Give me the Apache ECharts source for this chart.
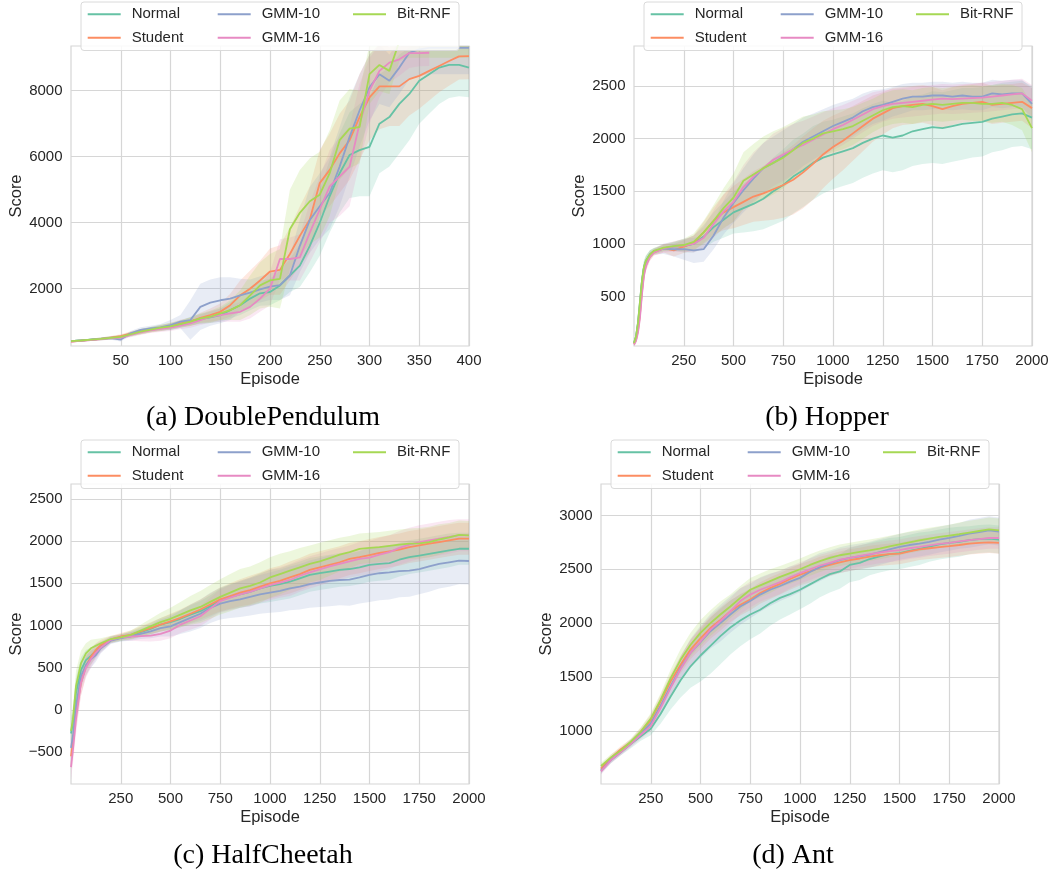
<!DOCTYPE html>
<html>
<head>
<meta charset="utf-8">
<title>Score vs Episode</title>
<script src="https://cdn.jsdelivr.net/npm/echarts@6/dist/echarts.min.js"></script>
<style>
  html, body { margin: 0; padding: 0; background: #fff; }
  #main { width: 1060px; height: 872px; }
</style>
</head>
<body>
<div id="main"></div>
<script>
// methods and seaborn Set2 colours
var methods = ['Normal', 'Student', 'GMM-10', 'GMM-16', 'Bit-RNF'];
var colors = ['#66c2a5', '#fc8d62', '#8da0cb', '#e78ac3', '#a6d854'];

// ---- (a) DoublePendulum ----
var dpEpisode = [0,10,20,30,40,50,60,70,80,90,100,110,120,130,140,150,160,170,180,190,200,210,220,230,240,250,260,270,280,290,300,310,320,330,340,350,360,370,380,390,400];
var dpNormal  = [410,430,460,480,510,540,620,700,760,810,850,930,1020,1080,1130,1200,1350,1500,1700,1860,1900,2100,2400,2700,3300,4000,4800,5500,6050,6200,6300,7000,7200,7600,7900,8300,8500,8700,8780,8780,8700];
var dpStudent = [400,425,450,480,520,560,640,700,750,800,870,950,1000,1120,1200,1300,1500,1800,2000,2250,2520,2570,3050,3600,4100,5200,5600,6100,6500,7200,7800,8130,8130,8130,8350,8450,8600,8750,8900,9040,9050];
var dpGmm10   = [410,430,455,480,500,460,650,750,800,830,900,1000,1050,1450,1580,1650,1700,1800,1880,1980,2060,2110,2400,3300,4080,4500,4900,5700,6600,7400,8100,8500,8300,8700,9150,9250,9300,9300,9300,9300,9300];
var dpGmm16   = [400,420,445,470,500,520,600,680,740,780,820,880,950,1050,1150,1200,1250,1300,1450,1700,2000,2900,2900,2950,3700,4400,5100,5400,5700,7000,8000,8600,8850,8950,9140,9140,9150];
var dpBitRnf  = [410,430,455,480,510,540,620,700,760,820,860,930,1000,1100,1150,1250,1350,1500,1800,2100,2250,2300,3800,4300,4650,4850,5500,6500,6850,6900,8500,8780,8600,9500,9600,9600,9600,9600,9600,9600,9600];
// half width of the shaded band
var dpNormalBand  = [30,30,30,40,50,60,70,80,80,90,100,110,130,150,170,200,250,300,350,380,400,450,500,650,800,1000,1100,1200,1300,1400,1500,1500,1500,1500,1400,1300,1200,1100,1000,950,900];
var dpStudentBand = [30,30,30,40,50,60,70,80,80,90,100,110,130,150,200,250,350,450,550,600,700,750,800,900,1000,1000,1100,1200,1200,1300,1300,1300,1200,1200,1100,1000,900,800,750,700,700];
var dpGmm10Band   = [30,30,30,40,50,60,70,80,80,100,150,200,600,700,700,700,650,500,400,400,400,450,600,800,1000,1000,1100,1200,1200,1100,1000,900,800,800,800,800,800,800,800,800,800];
var dpGmm16Band   = [30,30,30,40,50,60,70,80,80,90,100,110,130,150,180,200,250,300,350,400,500,600,650,700,900,1000,1100,1200,1200,1200,1000,800,600,500,450,400,400];
var dpBitRnfBand  = [30,30,30,40,50,60,70,80,80,90,100,110,130,150,180,200,300,450,600,700,800,900,1200,1300,1300,1300,1300,1200,1200,1100,900,800,700,600,600,600,600,600,600,600,600];

// ---- (b) Hopper ----
var hopEpisode = [0,10,20,30,40,50,60,80,100,150,200,250,300,350,400,450,500,550,600,650,700,750,800,850,900,950,1000,1050,1100,1150,1200,1250,1300,1350,1400,1450,1500,1550,1600,1650,1700,1750,1800,1850,1900,1950,2000];
var hopNormal  = [60,120,250,450,650,780,840,900,930,960,975,980,1000,1070,1160,1230,1300,1340,1380,1430,1500,1560,1640,1700,1770,1820,1850,1880,1910,1960,2000,2030,2010,2030,2070,2090,2110,2100,2120,2140,2150,2160,2190,2210,2230,2240,2200];
var hopStudent = [50,90,180,330,550,720,800,880,920,960,940,975,1010,1110,1220,1300,1350,1400,1450,1480,1520,1560,1610,1680,1760,1850,1920,1980,2050,2120,2190,2240,2290,2310,2320,2330,2310,2280,2310,2330,2340,2350,2320,2330,2340,2350,2290];
var hopGmm10   = [60,110,240,430,640,770,830,900,930,955,950,950,940,950,1080,1250,1390,1510,1620,1720,1770,1830,1900,1970,2020,2070,2120,2160,2200,2260,2300,2320,2350,2380,2400,2400,2410,2410,2400,2410,2400,2400,2430,2420,2430,2430,2330];
var hopGmm16   = [45,80,160,300,520,700,790,880,920,960,975,985,1000,1060,1190,1310,1400,1540,1640,1720,1800,1850,1900,1940,1990,2040,2090,2130,2180,2230,2280,2310,2330,2340,2350,2360,2370,2380,2375,2380,2385,2390,2400,2410,2420,2430,2360];
var hopBitRnf  = [60,120,250,450,650,780,840,900,935,965,980,990,1020,1110,1220,1340,1440,1600,1660,1720,1770,1820,1890,1960,2000,2050,2070,2090,2120,2170,2220,2270,2300,2310,2300,2320,2330,2320,2330,2340,2340,2330,2330,2340,2320,2280,2100];
var hopNormalBand  = [20,30,50,80,80,60,50,40,30,30,40,60,80,110,140,170,200,230,260,290,320,340,350,350,350,340,330,330,330,330,330,330,330,330,330,330,340,340,340,340,330,330,320,320,310,310,300];
var hopStudentBand = [20,30,50,80,80,60,50,40,30,40,60,60,70,100,130,170,200,220,240,260,290,310,330,340,340,320,300,280,260,240,220,200,190,180,180,180,180,180,180,180,180,180,180,180,180,180,190];
var hopGmm10Band   = [20,30,50,80,80,60,50,40,30,50,70,100,120,120,130,160,190,210,230,240,250,250,240,230,220,210,200,190,180,170,160,150,140,140,130,130,130,130,130,130,130,130,130,130,130,130,150];
var hopGmm16Band   = [20,30,50,80,80,60,50,40,30,40,50,60,80,100,130,160,190,210,230,240,250,250,240,230,220,210,200,190,180,170,160,150,140,140,140,140,140,140,140,140,140,140,140,140,140,140,150];
var hopBitRnfBand  = [20,30,50,80,80,60,50,40,30,30,40,60,80,110,150,190,230,270,290,300,300,290,270,250,230,210,200,190,180,170,160,160,160,160,160,160,160,160,160,160,170,170,180,180,190,200,230];

// ---- (c) HalfCheetah ----
var hcEpisode = [0,10,25,50,75,100,125,150,200,250,300,350,400,450,500,550,600,650,700,750,800,850,900,950,1000,1050,1100,1150,1200,1250,1300,1350,1400,1450,1500,1550,1600,1650,1700,1750,1800,1850,1900,1950,2000];
var hcNormal  = [-280,-150,200,470,590,640,700,750,830,855,880,920,960,1010,1040,1080,1130,1170,1230,1300,1340,1370,1400,1440,1470,1490,1520,1560,1600,1620,1640,1660,1670,1690,1720,1730,1740,1780,1810,1830,1850,1870,1890,1910,1910];
var hcStudent = [-550,-370,-40,320,520,630,710,770,835,870,890,930,970,1010,1050,1090,1140,1190,1250,1310,1350,1390,1420,1460,1500,1530,1570,1610,1660,1690,1720,1750,1790,1810,1835,1860,1880,1900,1930,1950,1970,1990,2010,2030,2030];
var hcGmm10   = [-450,-310,40,400,530,600,650,730,820,850,870,900,930,970,990,1040,1090,1140,1210,1260,1290,1310,1340,1370,1390,1410,1440,1460,1490,1510,1530,1540,1545,1570,1600,1620,1630,1645,1650,1670,1700,1730,1750,1770,1765];
var hcGmm16   = [-680,-470,-110,320,500,600,680,740,830,860,870,875,880,900,940,1010,1060,1110,1200,1290,1330,1370,1400,1440,1480,1510,1540,1590,1630,1665,1700,1730,1760,1790,1805,1840,1870,1920,1960,1990,2010,2030,2050,2070,2070];
var hcBitRnf  = [-250,-110,280,550,670,730,760,790,840,860,890,940,990,1040,1080,1130,1180,1220,1280,1340,1390,1440,1470,1510,1570,1610,1650,1690,1730,1760,1800,1840,1870,1910,1920,1930,1945,1960,1970,1975,1990,2020,2045,2075,2070];
var hcNormalBand  = [150,160,180,150,120,100,80,60,40,40,50,60,70,80,90,100,110,120,130,140,150,160,170,180,190,190,200,200,200,200,200,200,200,200,200,200,200,200,200,200,200,200,200,190,190];
var hcStudentBand = [150,160,180,150,120,100,80,60,40,40,50,60,70,80,90,100,110,120,130,140,150,160,170,170,180,180,190,190,190,190,190,190,190,190,190,190,190,190,190,190,190,190,190,190,190];
var hcGmm10Band   = [150,160,180,150,120,100,80,60,40,40,50,60,80,100,120,140,160,170,180,190,200,210,220,230,240,250,260,270,280,290,300,300,310,310,320,320,320,310,310,300,300,290,290,280,280];
var hcGmm16Band   = [150,160,180,150,120,100,80,60,40,40,50,60,70,80,90,100,110,120,130,140,150,160,170,170,180,180,190,190,190,190,190,190,190,200,200,200,200,200,200,200,200,200,200,190,190];
var hcBitRnfBand  = [150,160,180,150,120,100,80,60,40,40,50,70,90,110,130,150,170,190,200,210,220,230,230,240,240,240,230,230,220,220,210,200,190,180,180,180,180,180,180,180,180,180,170,170,170];

// ---- (d) Ant ----
var antEpisode = [0,50,100,150,200,250,300,350,400,450,500,550,600,650,700,750,800,850,900,950,1000,1050,1100,1150,1200,1250,1300,1350,1400,1450,1500,1550,1600,1650,1700,1750,1800,1850,1900,1950,2000];
var antNormal  = [640,730,805,880,950,1020,1160,1320,1470,1600,1700,1790,1880,1960,2025,2080,2125,2185,2235,2270,2310,2360,2410,2455,2480,2540,2560,2595,2620,2640,2650,2670,2690,2710,2730,2745,2755,2770,2780,2785,2776];
var antStudent = [650,750,830,895,990,1100,1275,1460,1615,1755,1860,1955,2030,2110,2170,2220,2280,2325,2365,2410,2450,2480,2515,2540,2565,2585,2600,2618,2630,2640,2646,2665,2685,2695,2705,2714,2725,2738,2745,2750,2745];
var antGmm10   = [630,735,810,885,975,1070,1235,1415,1585,1725,1825,1925,2000,2080,2155,2205,2265,2310,2345,2385,2420,2475,2520,2555,2585,2605,2620,2635,2660,2685,2708,2725,2738,2755,2775,2792,2810,2830,2845,2862,2850];
var antGmm16   = [625,730,805,880,965,1045,1215,1400,1575,1725,1830,1940,2020,2110,2205,2265,2310,2345,2380,2425,2465,2500,2535,2560,2590,2605,2625,2640,2655,2668,2677,2695,2708,2722,2735,2745,2758,2770,2780,2790,2790];
var antBitRnf  = [675,755,820,900,995,1115,1290,1490,1660,1800,1910,2000,2080,2155,2235,2310,2350,2390,2430,2465,2500,2540,2575,2605,2630,2646,2662,2676,2692,2712,2730,2750,2768,2785,2800,2813,2825,2840,2855,2870,2860];
var antNormalBand  = [30,30,30,40,40,60,90,120,160,200,240,260,260,250,240,230,220,210,200,190,180,180,170,170,160,160,160,150,150,150,150,150,150,140,140,140,140,130,130,130,130];
var antStudentBand = [30,30,30,30,40,50,60,70,80,90,100,100,100,100,100,100,100,100,100,100,100,100,100,100,100,100,100,100,100,100,100,100,100,100,100,100,100,100,100,100,100];
var antGmm10Band   = [30,30,30,30,40,50,70,90,110,130,150,160,170,170,170,160,160,150,140,140,130,130,130,120,120,120,120,120,120,120,120,120,120,120,120,120,120,130,130,130,130];
var antGmm16Band   = [30,30,30,30,40,50,70,90,110,120,130,130,130,120,120,120,110,110,110,100,100,100,100,100,100,100,100,100,100,100,100,100,100,100,100,100,100,100,100,100,100];
var antBitRnfBand  = [30,30,30,30,40,50,60,80,100,110,120,120,120,110,110,110,110,110,100,100,100,100,100,100,100,100,100,100,100,100,100,100,100,100,100,100,110,110,110,110,110];

// tick labels
var dpXTicks = [50,100,150,200,250,300,350,400];
var longXTicks = [250,500,750,1000,1250,1500,1750,2000];
var dpYTicks = [2000,4000,6000,8000];
var hopYTicks = [500,1000,1500,2000,2500];
var hcYTicks = [-500,0,500,1000,1500,2000,2500];
var antYTicks = [1000,1500,2000,2500,3000];

var panels = [
    { caption: '(a) DoublePendulum', left: 71, top: 46, x: dpEpisode, xMax: 400, xTicks: dpXTicks,
      yMin: 264, yMax: 9354, yTicks: dpYTicks, legendLeft: 81, legendTop: 2, capX: 263, capY: 418,
      means: [dpNormal, dpStudent, dpGmm10, dpGmm16, dpBitRnf],
      bands: [dpNormalBand, dpStudentBand, dpGmm10Band, dpGmm16Band, dpBitRnfBand] },
    { caption: '(b) Hopper', left: 634, top: 46, x: hopEpisode, xMax: 2000, xTicks: longXTicks,
      yMin: 31, yMax: 2880, yTicks: hopYTicks, legendLeft: 644, legendTop: 2, capX: 827, capY: 418,
      means: [hopNormal, hopStudent, hopGmm10, hopGmm16, hopBitRnf],
      bands: [hopNormalBand, hopStudentBand, hopGmm10Band, hopGmm16Band, hopBitRnfBand] },
    { caption: '(c) HalfCheetah', left: 71, top: 484, x: hcEpisode, xMax: 2000, xTicks: longXTicks,
      yMin: -879, yMax: 2678, yTicks: hcYTicks, legendLeft: 81, legendTop: 440, capX: 263, capY: 856,
      means: [hcNormal, hcStudent, hcGmm10, hcGmm16, hcBitRnf],
      bands: [hcNormalBand, hcStudentBand, hcGmm10Band, hcGmm16Band, hcBitRnfBand] },
    { caption: '(d) Ant', left: 601, top: 484, x: antEpisode, xMax: 2000, xTicks: longXTicks,
      yMin: 508, yMax: 3291, yTicks: antYTicks, legendLeft: 611, legendTop: 440, capX: 793, capY: 856,
      means: [antNormal, antStudent, antGmm10, antGmm16, antBitRnf],
      bands: [antNormalBand, antStudentBand, antGmm10Band, antGmm16Band, antBitRnfBand] }
];

var sans = 'Liberation Sans';
var textColor = '#262626';
var gridColor = '#d6d6d6';

function rgba(hex, a) {
    var n = parseInt(hex.slice(1), 16);
    return 'rgba(' + (n >> 16) + ',' + ((n >> 8) & 255) + ',' + (n & 255) + ',' + a + ')';
}

// plain numbers, matplotlib style minus sign
function tickText(v) {
    return v < 0 ? '\u2212' + Math.abs(v) : String(v);
}

// draws the whole band as one polygon on the first item
function bandRenderer(rows, color) {
    return function (params, api) {
        if (params.dataIndex !== 0) return null;
        var upper = rows.map(function (r) { return api.coord([r[0], r[2]]); });
        var lower = rows.map(function (r) { return api.coord([r[0], r[1]]); }).reverse();
        return {
            type: 'polygon',
            shape: { points: upper.concat(lower) },
            style: { fill: rgba(color, 0.2) }
        };
    };
}

var option = {
    animation: false,
    backgroundColor: '#fff',
    grid: [], xAxis: [], yAxis: [], series: [], legend: [],
    graphic: { elements: [] }
};

var legendCols = [['Normal', 'Student'], ['GMM-10', 'GMM-16'], ['Bit-RNF']];
var legendColX = [5.7, 135.7, 271];

panels.forEach(function (p, i) {
    option.grid.push({
        left: p.left, top: p.top, width: 398, height: 300,
        show: true, borderColor: gridColor, borderWidth: 1.2, backgroundColor: '#fff'
    });
    option.xAxis.push({
        type: 'value', gridIndex: i, min: 0, max: p.xMax,
        name: 'Episode', nameLocation: 'middle', nameGap: 25,
        nameTextStyle: { fontFamily: sans, fontSize: 16.5, color: textColor },
        axisLine: { show: false },
        axisTick: { show: false, customValues: p.xTicks },
        axisLabel: { customValues: p.xTicks, formatter: tickText, margin: 7, fontFamily: sans, fontSize: 15, color: textColor },
        splitLine: { show: true, lineStyle: { color: gridColor, width: 1.2 } }
    });
    option.yAxis.push({
        type: 'value', gridIndex: i, min: p.yMin, max: p.yMax,
        name: 'Score', nameLocation: 'middle', nameGap: 46, nameRotate: 90,
        nameTextStyle: { fontFamily: sans, fontSize: 16.5, color: textColor },
        axisLine: { show: false },
        axisTick: { show: false, customValues: p.yTicks },
        axisLabel: { customValues: p.yTicks, formatter: tickText, margin: 8.5, fontFamily: sans, fontSize: 15, color: textColor },
        splitLine: { show: true, lineStyle: { color: gridColor, width: 1.2 } }
    });

    // shaded bands first, lines on top
    methods.forEach(function (m, k) {
        var mean = p.means[k], band = p.bands[k];
        var rows = mean.map(function (v, j) { return [p.x[j], v - band[j], v + band[j]]; });
        option.series.push({
            type: 'custom', name: m + ' band', xAxisIndex: i, yAxisIndex: i,
            clip: true, silent: true, z: 1,
            encode: { x: 0, y: [1, 2] },
            data: rows,
            renderItem: bandRenderer(rows, colors[k])
        });
    });
    methods.forEach(function (m, k) {
        option.series.push({
            type: 'line', name: m, xAxisIndex: i, yAxisIndex: i,
            data: p.means[k].map(function (v, j) { return [p.x[j], v]; }),
            symbol: 'none', showSymbol: false, clip: true, z: 3,
            color: colors[k],
            lineStyle: { color: colors[k], width: 1.8 },
            emphasis: { disabled: true }
        });
    });

    // legend frame + three legend columns
    option.graphic.elements.push({
        type: 'rect', z: 10,
        shape: { x: p.legendLeft, y: p.legendTop, width: 378, height: 48.5, r: 3 },
        style: { fill: 'rgba(255,255,255,0.85)', stroke: '#dadada', lineWidth: 1 }
    });
    legendCols.forEach(function (names, c) {
        option.legend.push({
            data: names, orient: 'vertical', z: 20,
            left: p.legendLeft + legendColX[c], top: p.legendTop + 4.7,
            padding: 0, itemWidth: 33, itemHeight: 14, itemGap: 8.6,
            itemStyle: { opacity: 0 },
            lineStyle: { width: 2 },
            textStyle: { fontFamily: sans, fontSize: 15, color: textColor, padding: [0, 0, 0, 6] }
        });
    });

    // caption under each panel
    option.graphic.elements.push({
        type: 'text', x: p.capX, y: p.capY, z: 10,
        style: {
            text: p.caption, fill: '#000',
            fontFamily: 'Liberation Serif', fontSize: 28,
            align: 'center', verticalAlign: 'middle'
        }
    });
});

var myChart = echarts.init(document.getElementById('main'));
myChart.setOption(option);
</script>
</body>
</html>
